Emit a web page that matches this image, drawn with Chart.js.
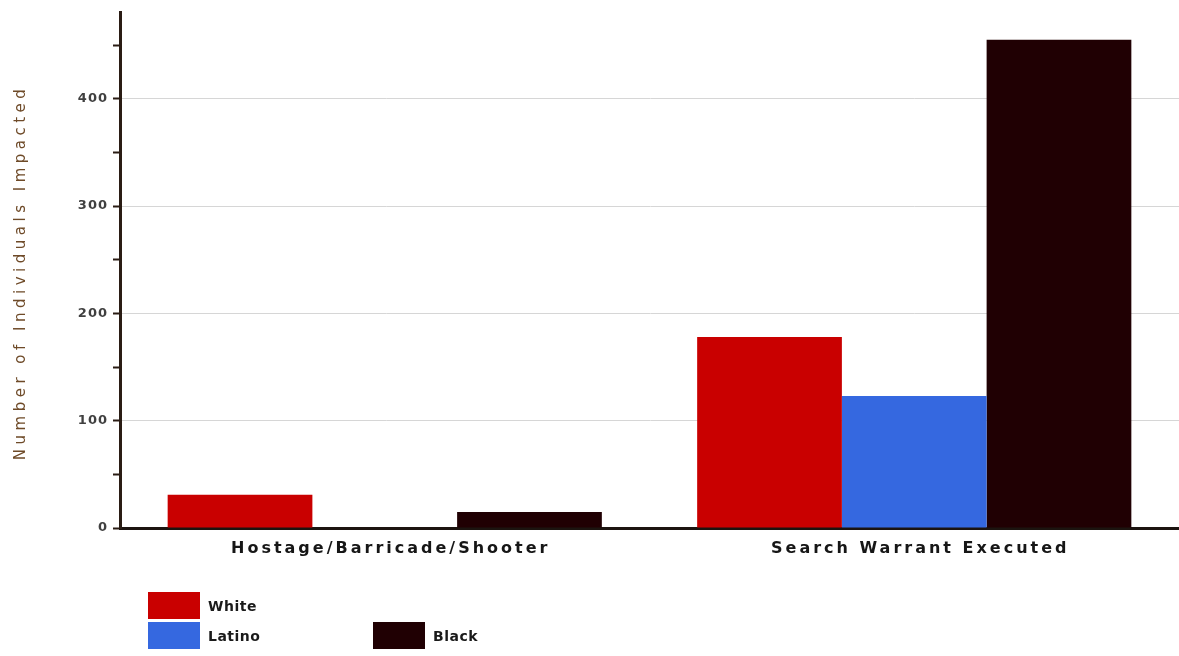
<!DOCTYPE html>
<html>
<head>
<meta charset="utf-8">
<script src="https://cdn.jsdelivr.net/npm/chart.js@4/dist/chart.umd.min.js"></script>
<style>
    html, body { margin: 0; padding: 0; background: #ffffff; }
    #wrap { width: 1179px; height: 656px; position: relative; }
</style>
</head>
<body>
<div id="wrap"><canvas id="chart1"></canvas></div>
<script>
let categories = ['Hostage/Barricade/Shooter', 'Search Warrant Executed']
let seriesNames = ['White', 'Latino', 'Black']
let whiteValues = [31, 178]
let latinoValues = [0, 123]
let blackValues = [15, 455]
let yTickLabels = [0, 100, 200, 300, 400]
let yTitle = 'Number of Individuals Impacted'

const colors = ['#c90000', '#3568e0', '#200003']

// legend drawn in the same arrangement as the original (White alone on first row)
const legendSlots = [
    { x: 148, y: 592 },
    { x: 148, y: 622 },
    { x: 373, y: 622 }
]

// the scanned original has wide, heavy lettering, so the text is drawn here with letterSpacing
const spacedText = {
    id: 'spacedText',
    beforeDraw(chart) {
        chart.ctx.letterSpacing = '1px'
    },
    afterDraw(chart) {
        const ctx = chart.ctx
        const xScale = chart.scales.x
        const area = chart.chartArea
        ctx.save()

        // category labels
        ctx.letterSpacing = '3px'
        ctx.fillStyle = '#161616'
        ctx.font = 'bold 16px "DejaVu Sans", sans-serif'
        ctx.textAlign = 'center'
        ctx.textBaseline = 'middle'
        chart.data.labels.forEach((lab, i) => {
            ctx.fillText(lab, xScale.getPixelForValue(i) + 6, area.bottom + 21)
        })

        // y axis title
        ctx.save()
        ctx.translate(21, (area.top + area.bottom) / 2 + 2)
        ctx.rotate(-Math.PI / 2)
        ctx.letterSpacing = '4.5px'
        ctx.fillStyle = '#6e4a28'
        ctx.font = '15px "DejaVu Sans", sans-serif'
        ctx.fillText(yTitle, 0, 0)
        ctx.restore()

        // legend
        ctx.letterSpacing = '0.5px'
        ctx.textAlign = 'left'
        chart.data.datasets.forEach((ds, i) => {
            const slot = legendSlots[i]
            ctx.fillStyle = ds.backgroundColor
            ctx.fillRect(slot.x, slot.y, 52, 27)
            ctx.fillStyle = '#1a1a1a'
            ctx.font = 'bold 14px "DejaVu Sans", sans-serif'
            ctx.fillText(ds.label, slot.x + 60, slot.y + 15)
        })
        ctx.restore()
        ctx.letterSpacing = '0px'
    }
}

function renderChart1() {
    const ctx = document.querySelector('#chart1').getContext('2d')
    const chart1 = new Chart(ctx, {
        type: 'bar',
        data: {
            labels: categories,
            datasets: [
                { label: seriesNames[0], data: whiteValues, backgroundColor: colors[0] },
                { label: seriesNames[1], data: latinoValues, backgroundColor: colors[1] },
                { label: seriesNames[2], data: blackValues, backgroundColor: colors[2] }
            ]
        },
        options: {
            responsive: true,
            maintainAspectRatio: false,
            animation: false,
            datasets: {
                bar: {
                    categoryPercentage: 0.82,
                    barPercentage: 1.0,
                    borderWidth: 0
                }
            },
            scales: {
                x: {
                    grid: { display: false, drawTicks: false },
                    border: { display: true, color: '#1c1410', width: 3 },
                    ticks: { display: false },
                    afterFit(scale) { scale.height = 128 }
                },
                y: {
                    min: 0,
                    max: 480,
                    ticks: {
                        stepSize: 50,
                        padding: 5,
                        color: '#404040',
                        font: { family: '"DejaVu Sans", sans-serif', size: 13, weight: 'bold' },
                        callback: v => yTickLabels.includes(v) ? v : ''
                    },
                    grid: {
                        drawOnChartArea: true,
                        tickLength: 7,
                        lineWidth: 1,
                        color: c => (c.tick && c.tick.value % 100 === 0 && c.tick.value > 0) ? '#d6d6d6' : 'rgba(0,0,0,0)',
                        tickColor: c => (c.tick && c.tick.value % 50 === 0 && c.tick.value < 480) ? '#2a1c14' : 'rgba(0,0,0,0)',
                        tickWidth: 2
                    },
                    border: { display: true, color: '#2a1c14', width: 3 },
                    afterFit(scale) { scale.width = 120 }
                }
            },
            plugins: {
                legend: { display: false },
                tooltip: { enabled: false }
            },
            layout: {
                padding: { top: 12, right: 0, bottom: 0, left: 0 }
            }
        },
        plugins: [spacedText]
    })
}

renderChart1()
</script>
</body>
</html>
